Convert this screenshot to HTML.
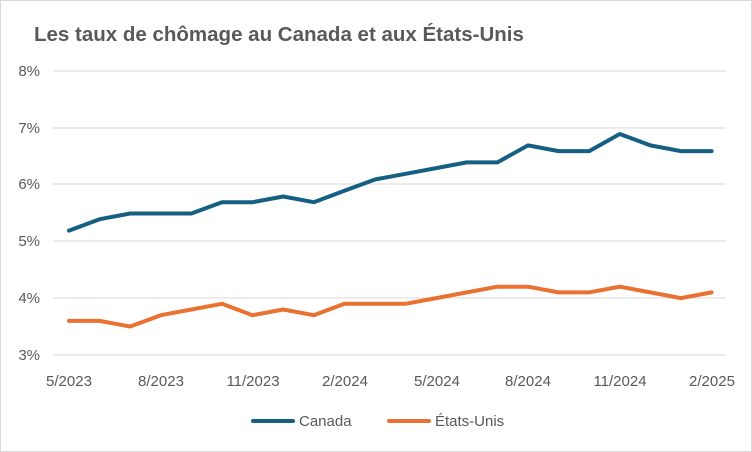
<!DOCTYPE html>
<html><head><meta charset="utf-8"><style>
body{margin:0;background:#fff;}
svg{display:block;font-family:"Liberation Sans",sans-serif;}
</style></head><body>
<svg width="752" height="452" viewBox="0 0 752 452">
<rect x="0.5" y="0.5" width="751" height="451" fill="#fff" stroke="#d9d9d9"/>
<text x="34" y="41" font-size="20.5" font-weight="bold" fill="#595959">Les taux de chômage au Canada et aux États-Unis</text>
<g stroke="#d9d9d9" stroke-width="1">
<line x1="53" x2="726" y1="71" y2="71"/>
<line x1="53" x2="726" y1="128" y2="128"/>
<line x1="53" x2="726" y1="184" y2="184"/>
<line x1="53" x2="726" y1="241" y2="241"/>
<line x1="53" x2="726" y1="298" y2="298"/>
<line x1="53" x2="726" y1="355" y2="355"/>
</g>
<g font-size="15" fill="#595959" text-anchor="end">
<text x="40" y="76">8%</text><text x="40" y="133">7%</text><text x="40" y="189">6%</text>
<text x="40" y="246">5%</text><text x="40" y="303">4%</text><text x="40" y="360">3%</text>
</g>
<g font-size="15" fill="#595959" text-anchor="middle">
<text x="69" y="386">5/2023</text><text x="161" y="386">8/2023</text><text x="253" y="386">11/2023</text>
<text x="345" y="386">2/2024</text><text x="437" y="386">5/2024</text><text x="528" y="386">8/2024</text>
<text x="620" y="386">11/2024</text><text x="712" y="386">2/2025</text>
</g>
<polyline fill="none" stroke="#156082" stroke-width="4" stroke-linejoin="round" stroke-linecap="round" points="69,230.6 99.6,219.2 130.2,213.5 160.8,213.5 191.4,213.5 222,202.2 252.6,202.2 283.2,196.5 313.8,202.2 344.4,190.8 375,179.5 405.6,173.8 436.2,168.1 466.8,162.4 497.4,162.4 528,145.4 558.6,151.1 589.2,151.1 619.8,134 650.4,145.4 681,151.1 711.6,151.1"/>
<polyline fill="none" stroke="#e97132" stroke-width="4" stroke-linejoin="round" stroke-linecap="round" points="69,320.9 99.6,320.9 130.2,326.5 160.8,315.2 191.4,309.5 222,303.8 252.6,315.2 283.2,309.5 313.8,315.2 344.4,303.8 375,303.8 405.6,303.8 436.2,298.1 466.8,292.4 497.4,286.7 528,286.7 558.6,292.4 589.2,292.4 619.8,286.7 650.4,292.4 681,298.1 711.6,292.4"/>
<line x1="253" x2="293" y1="421" y2="421" stroke="#156082" stroke-width="4" stroke-linecap="round"/>
<text x="299" y="426" font-size="15" fill="#595959">Canada</text>
<line x1="389" x2="429" y1="421" y2="421" stroke="#e97132" stroke-width="4" stroke-linecap="round"/>
<text x="435" y="426" font-size="15" fill="#595959">États-Unis</text>
</svg>
</body></html>
